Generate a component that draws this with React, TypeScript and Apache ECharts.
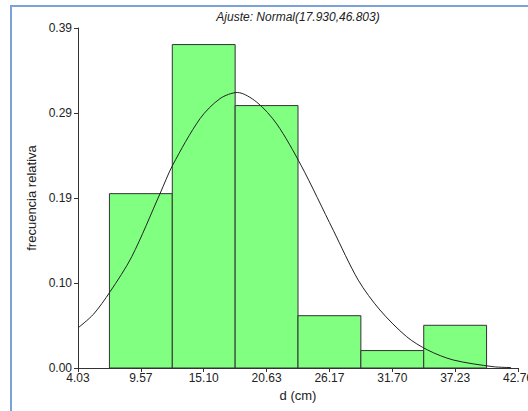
import React, { useEffect, useRef } from "react";
import * as echarts from "echarts";

const titleText = "Ajuste: Normal(17.930,46.803)";
const xAxisName = "d (cm)";
const yAxisName = "frecuencia relativa";

const xTicks = [4.03, 9.563, 15.096, 20.629, 26.162, 31.695, 37.228, 42.761];
const xTickLabels = ["4.03", "9.57", "15.10", "20.63", "26.17", "31.70", "37.23", "42.76"];
const yTicks = [0, 0.0975, 0.195, 0.2925, 0.39];
const yTickLabels = ["0.00", "0.10", "0.19", "0.29", "0.39"];

const binLower = [6.797, 12.33, 17.863, 23.396, 28.929, 34.462];
const binUpper = [12.33, 17.863, 23.396, 28.929, 34.462, 39.995];
const relFreq = [0.2, 0.371, 0.301, 0.06, 0.02, 0.049];

const curveX = [4.03, 5.38, 6.85, 8.76, 11.25, 12.36, 14.77, 16.53, 18.05, 19.76, 21.52, 23.66, 26.5, 28.7, 30.61, 32.96, 34.81, 37.06, 40.58, 42.15];
const curveY = [0.046, 0.0615, 0.0874, 0.1276, 0.2, 0.2326, 0.286, 0.309, 0.316, 0.305, 0.28, 0.2326, 0.158, 0.1008, 0.0665, 0.0359, 0.0206, 0.0092, 0.0015, 0.0005];

const FONT = "'Liberation Sans', Arial, sans-serif";

function labelFor(ticks: number[], labels: string[], v: number): string {
  for (let i = 0; i < ticks.length; i++) {
    if (Math.abs(ticks[i] - v) < 1e-6) return labels[i];
  }
  return "";
}

export default function App() {
  const ref = useRef<HTMLDivElement>(null);
  useEffect(() => {
    if (!ref.current) return;
    const chart = echarts.init(ref.current, undefined, { renderer: "svg" });
    const axisColor = "#333";
    const option: any = {
      animation: false,
      backgroundColor: "#fff",
      grid: { left: 78, right: 10, top: 28, bottom: 43, containLabel: false, outerBoundsMode: "none" },
      graphic: [
        {
          type: "rect",
          shape: { x: 11, y: 6, width: 700, height: 600 },
          style: { fill: "none", stroke: "#7BA3D8", lineWidth: 2 },
          silent: true,
          z: 0,
        },
        {
          type: "text",
          x: 298,
          y: 17,
          style: {
            text: titleText,
            fontFamily: FONT,
            fontSize: 12,
            fontStyle: "italic",
            fill: "#222",
            textAlign: "center",
            textVerticalAlign: "middle",
          },
          z: 10,
        },
      ],
      xAxis: {
        type: "value",
        min: xTicks[0],
        max: xTicks[xTicks.length - 1],
        name: xAxisName,
        nameLocation: "middle",
        nameGap: 20,
        nameTextStyle: { fontFamily: FONT, fontSize: 13, color: "#222" },
        axisLine: { show: true, onZero: false, lineStyle: { color: axisColor, width: 1 } },
        axisTick: { show: true, length: 4, customValues: xTicks, lineStyle: { color: axisColor } },
        axisLabel: {
          show: true,
          customValues: xTicks,
          margin: 4,
          fontFamily: FONT,
          fontSize: 12,
          color: "#222",
          showMinLabel: true,
          showMaxLabel: true,
          hideOverlap: false,
          formatter: (v: number) => labelFor(xTicks, xTickLabels, v),
        },
        splitLine: { show: false },
      },
      yAxis: {
        type: "value",
        min: 0,
        max: yTicks[yTicks.length - 1],
        name: yAxisName,
        nameLocation: "middle",
        nameGap: 39,
        nameTextStyle: { fontFamily: FONT, fontSize: 13, color: "#222" },
        axisLine: { show: true, lineStyle: { color: axisColor, width: 1 } },
        axisTick: { show: true, length: 4, customValues: yTicks, lineStyle: { color: axisColor } },
        axisLabel: {
          show: true,
          customValues: yTicks,
          margin: 6,
          fontFamily: FONT,
          fontSize: 12,
          color: "#222",
          showMinLabel: true,
          showMaxLabel: true,
          formatter: (v: number) => labelFor(yTicks, yTickLabels, v),
        },
        splitLine: { show: false },
      },
      series: [
        {
          type: "custom",
          name: "hist",
          data: binLower.map((lo, i) => [lo, binUpper[i], relFreq[i]]),
          encode: { x: [0, 1], y: 2 },
          renderItem: (params: any, api: any) => {
            const lo = api.value(0);
            const hi = api.value(1);
            const v = api.value(2);
            const p1 = api.coord([lo, v]);
            const p2 = api.coord([hi, 0]);
            return {
              type: "rect",
              shape: { x: p1[0], y: p1[1], width: p2[0] - p1[0], height: p2[1] - p1[1] },
              style: { fill: "#80FF80", stroke: "#333", lineWidth: 1 },
            };
          },
          z: 2,
        },
        {
          type: "line",
          name: "normal",
          data: curveX.map((x, i) => [x, curveY[i]]),
          showSymbol: false,
          smooth: 0.3,
          lineStyle: { color: "#222", width: 1 },
          z: 3,
        },
      ],
    };
    chart.setOption(option);
    return () => chart.dispose();
  }, []);
  return (
    <div
      ref={ref}
      style={{ position: "fixed", left: 0, top: 0, width: 528, height: 411, background: "#fff" }}
    />
  );
}
